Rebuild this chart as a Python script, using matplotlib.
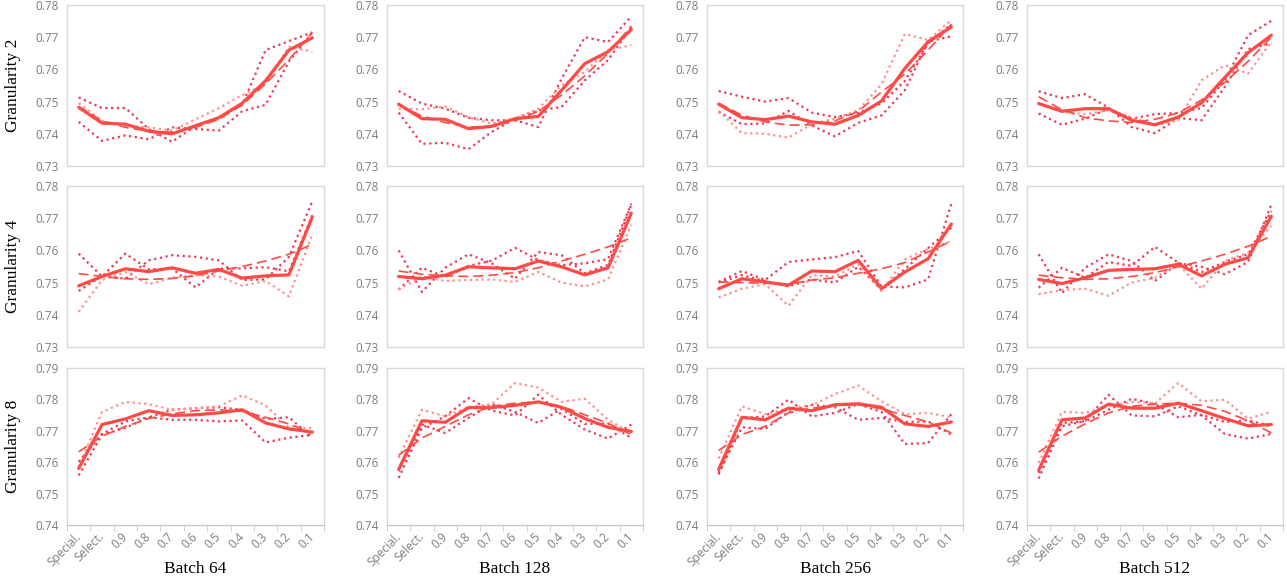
import matplotlib
matplotlib.use("Agg")
import matplotlib.pyplot as plt
from matplotlib.ticker import FormatStrFormatter

categories = ["Special.", "Select.", "0.9", "0.8", "0.7", "0.6", "0.5", "0.4", "0.3", "0.2", "0.1"]
granularities = ["Granularity 2", "Granularity 4", "Granularity 8"]
batches = ["Batch 64", "Batch 128", "Batch 256", "Batch 512"]

# Granularity 2
g2_b64_a = [0.7513, 0.7480, 0.7480, 0.7415, 0.7375, 0.7425, 0.7450, 0.7490, 0.7660, 0.7688, 0.7715]
g2_b64_b = [0.7437, 0.7378, 0.7395, 0.7383, 0.7420, 0.7415, 0.7410, 0.7470, 0.7490, 0.7625, 0.7715]
g2_b64_c = [0.7495, 0.7440, 0.7425, 0.7420, 0.7410, 0.7445, 0.7480, 0.7520, 0.7555, 0.7670, 0.7655]
g2_b64_avg = [0.7482, 0.7433, 0.7430, 0.7408, 0.7400, 0.7425, 0.7450, 0.7495, 0.7565, 0.7660, 0.7698]
g2_b64_fit = [0.7485, 0.7440, 0.7420, 0.7408, 0.7405, 0.7420, 0.7445, 0.7490, 0.7555, 0.7630, 0.7715]

g2_b128_a = [0.7533, 0.7494, 0.7478, 0.7450, 0.7442, 0.7442, 0.7421, 0.7571, 0.7700, 0.7685, 0.7765]
g2_b128_b = [0.7466, 0.7369, 0.7372, 0.7352, 0.7406, 0.7447, 0.7473, 0.7483, 0.7566, 0.7629, 0.7732]
g2_b128_c = [0.7478, 0.7476, 0.7485, 0.7452, 0.7432, 0.7447, 0.7478, 0.7551, 0.7592, 0.7660, 0.7675]
g2_b128_avg = [0.7492, 0.7447, 0.7445, 0.7416, 0.7423, 0.7447, 0.7454, 0.7535, 0.7618, 0.7655, 0.7724]
g2_b128_fit = [0.7490, 0.7455, 0.7435, 0.7420, 0.7425, 0.7440, 0.7470, 0.7520, 0.7580, 0.7650, 0.7735]

g2_b256_a = [0.7533, 0.7515, 0.7500, 0.7511, 0.7466, 0.7452, 0.7464, 0.7495, 0.7564, 0.7681, 0.7740]
g2_b256_b = [0.7468, 0.7430, 0.7432, 0.7471, 0.7426, 0.7392, 0.7434, 0.7457, 0.7535, 0.7686, 0.7703]
g2_b256_c = [0.7471, 0.7402, 0.7400, 0.7388, 0.7430, 0.7447, 0.7473, 0.7554, 0.7710, 0.7691, 0.7753]
g2_b256_avg = [0.7492, 0.7450, 0.7444, 0.7455, 0.7437, 0.7430, 0.7457, 0.7502, 0.7603, 0.7686, 0.7732]
g2_b256_fit = [0.7495, 0.7458, 0.7437, 0.7427, 0.7428, 0.7440, 0.7470, 0.7530, 0.7585, 0.7660, 0.7740]

g2_b512_a = [0.7532, 0.7511, 0.7523, 0.7481, 0.7421, 0.7402, 0.7449, 0.7442, 0.7546, 0.7663, 0.7681]
g2_b512_b = [0.7463, 0.7428, 0.7447, 0.7478, 0.7447, 0.7461, 0.7465, 0.7480, 0.7566, 0.7706, 0.7751]
g2_b512_c = [0.7494, 0.7468, 0.7461, 0.7473, 0.7452, 0.7426, 0.7442, 0.7566, 0.7613, 0.7587, 0.7686]
g2_b512_avg = [0.7494, 0.7470, 0.7478, 0.7478, 0.7442, 0.7428, 0.7452, 0.7496, 0.7575, 0.7652, 0.7706]
g2_b512_fit = [0.7515, 0.7475, 0.7450, 0.7440, 0.7435, 0.7445, 0.7465, 0.7505, 0.7560, 0.7625, 0.7700]

# Granularity 4
g4_b64_a = [0.7590, 0.7519, 0.7590, 0.7541, 0.7544, 0.7485, 0.7543, 0.7544, 0.7548, 0.7535, 0.7709]
g4_b64_b = [0.7474, 0.7521, 0.7512, 0.7569, 0.7585, 0.7580, 0.7569, 0.7508, 0.7510, 0.7580, 0.7753]
g4_b64_c = [0.7409, 0.7508, 0.7533, 0.7495, 0.7515, 0.7523, 0.7519, 0.7490, 0.7505, 0.7457, 0.7650]
g4_b64_avg = [0.7490, 0.7519, 0.7543, 0.7534, 0.7546, 0.7529, 0.7541, 0.7514, 0.7521, 0.7524, 0.7704]
g4_b64_fit = [0.7528, 0.7519, 0.7512, 0.7510, 0.7513, 0.7521, 0.7536, 0.7550, 0.7567, 0.7588, 0.7619]

g4_b128_a = [0.7600, 0.7471, 0.7546, 0.7588, 0.7560, 0.7512, 0.7595, 0.7585, 0.7529, 0.7555, 0.7742]
g4_b128_b = [0.7478, 0.7546, 0.7518, 0.7552, 0.7568, 0.7608, 0.7570, 0.7554, 0.7560, 0.7573, 0.7745]
g4_b128_c = [0.7479, 0.7519, 0.7505, 0.7508, 0.7510, 0.7502, 0.7533, 0.7500, 0.7488, 0.7510, 0.7680]
g4_b128_avg = [0.7519, 0.7512, 0.7523, 0.7549, 0.7546, 0.7543, 0.7567, 0.7549, 0.7524, 0.7546, 0.7716]
g4_b128_fit = [0.7536, 0.7526, 0.7521, 0.7519, 0.7523, 0.7531, 0.7546, 0.7567, 0.7588, 0.7611, 0.7639]

g4_b256_a = [0.7502, 0.7536, 0.7508, 0.7564, 0.7572, 0.7579, 0.7598, 0.7488, 0.7485, 0.7510, 0.7745]
g4_b256_b = [0.7500, 0.7523, 0.7505, 0.7488, 0.7510, 0.7500, 0.7549, 0.7479, 0.7542, 0.7607, 0.7670]
g4_b256_c = [0.7454, 0.7481, 0.7495, 0.7428, 0.7523, 0.7519, 0.7557, 0.7474, 0.7572, 0.7605, 0.7629]
g4_b256_avg = [0.7481, 0.7512, 0.7502, 0.7492, 0.7536, 0.7534, 0.7569, 0.7481, 0.7533, 0.7574, 0.7682]
g4_b256_fit = [0.7502, 0.7500, 0.7498, 0.7495, 0.7508, 0.7515, 0.7529, 0.7543, 0.7562, 0.7595, 0.7629]

g4_b512_a = [0.7588, 0.7467, 0.7546, 0.7588, 0.7567, 0.7505, 0.7560, 0.7549, 0.7526, 0.7564, 0.7742]
g4_b512_b = [0.7484, 0.7546, 0.7515, 0.7564, 0.7552, 0.7611, 0.7562, 0.7533, 0.7564, 0.7588, 0.7722]
g4_b512_c = [0.7464, 0.7477, 0.7481, 0.7459, 0.7500, 0.7515, 0.7557, 0.7481, 0.7567, 0.7593, 0.7677]
g4_b512_avg = [0.7510, 0.7497, 0.7515, 0.7538, 0.7541, 0.7543, 0.7557, 0.7521, 0.7557, 0.7577, 0.7706]
g4_b512_fit = [0.7523, 0.7515, 0.7510, 0.7512, 0.7519, 0.7531, 0.7549, 0.7567, 0.7588, 0.7613, 0.7644]

# Granularity 8
g8_b64_a = [0.7601, 0.7690, 0.7730, 0.7743, 0.7735, 0.7735, 0.7730, 0.7733, 0.7663, 0.7678, 0.7687]
g8_b64_b = [0.7558, 0.7688, 0.7709, 0.7743, 0.7767, 0.7772, 0.7775, 0.7767, 0.7738, 0.7743, 0.7679]
g8_b64_c = [0.7585, 0.7760, 0.7792, 0.7785, 0.7767, 0.7772, 0.7778, 0.7813, 0.7781, 0.7710, 0.7709]
g8_b64_avg = [0.7580, 0.7720, 0.7738, 0.7764, 0.7749, 0.7751, 0.7757, 0.7767, 0.7725, 0.7706, 0.7696]
g8_b64_fit = [0.7633, 0.7683, 0.7714, 0.7739, 0.7754, 0.7764, 0.7767, 0.7762, 0.7743, 0.7722, 0.7693]

g8_b128_a = [0.7550, 0.7709, 0.7746, 0.7804, 0.7764, 0.7749, 0.7815, 0.7751, 0.7704, 0.7675, 0.7720]
g8_b128_b = [0.7571, 0.7720, 0.7693, 0.7741, 0.7785, 0.7760, 0.7725, 0.7770, 0.7722, 0.7723, 0.7677]
g8_b128_c = [0.7614, 0.7767, 0.7746, 0.7775, 0.7785, 0.7852, 0.7838, 0.7792, 0.7802, 0.7735, 0.7693]
g8_b128_avg = [0.7577, 0.7732, 0.7727, 0.7774, 0.7774, 0.7781, 0.7792, 0.7775, 0.7739, 0.7711, 0.7698]
g8_b128_fit = [0.7622, 0.7677, 0.7714, 0.7751, 0.7778, 0.7788, 0.7792, 0.7778, 0.7751, 0.7724, 0.7688]

g8_b256_a = [0.7561, 0.7740, 0.7746, 0.7799, 0.7746, 0.7757, 0.7785, 0.7760, 0.7658, 0.7661, 0.7753]
g8_b256_b = [0.7566, 0.7711, 0.7706, 0.7760, 0.7783, 0.7775, 0.7735, 0.7741, 0.7728, 0.7730, 0.7688]
g8_b256_c = [0.7612, 0.7778, 0.7753, 0.7772, 0.7781, 0.7817, 0.7844, 0.7794, 0.7753, 0.7757, 0.7743]
g8_b256_avg = [0.7577, 0.7743, 0.7735, 0.7772, 0.7764, 0.7783, 0.7786, 0.7775, 0.7722, 0.7714, 0.7728]
g8_b256_fit = [0.7637, 0.7688, 0.7714, 0.7757, 0.7772, 0.7781, 0.7783, 0.7770, 0.7749, 0.7728, 0.7693]

g8_b512_a = [0.7548, 0.7714, 0.7732, 0.7815, 0.7749, 0.7746, 0.7778, 0.7749, 0.7690, 0.7675, 0.7690]
g8_b512_b = [0.7566, 0.7725, 0.7730, 0.7767, 0.7802, 0.7785, 0.7743, 0.7751, 0.7728, 0.7734, 0.7714]
g8_b512_c = [0.7598, 0.7760, 0.7757, 0.7778, 0.7792, 0.7788, 0.7852, 0.7794, 0.7799, 0.7739, 0.7760]
g8_b512_avg = [0.7574, 0.7735, 0.7741, 0.7785, 0.7772, 0.7772, 0.7788, 0.7764, 0.7739, 0.7716, 0.7720]
g8_b512_fit = [0.7632, 0.7683, 0.7722, 0.7757, 0.7778, 0.7785, 0.7788, 0.7781, 0.7762, 0.7732, 0.7693]

panels = [
    [(g2_b64_a, g2_b64_b, g2_b64_c, g2_b64_avg, g2_b64_fit),
     (g2_b128_a, g2_b128_b, g2_b128_c, g2_b128_avg, g2_b128_fit),
     (g2_b256_a, g2_b256_b, g2_b256_c, g2_b256_avg, g2_b256_fit),
     (g2_b512_a, g2_b512_b, g2_b512_c, g2_b512_avg, g2_b512_fit)],
    [(g4_b64_a, g4_b64_b, g4_b64_c, g4_b64_avg, g4_b64_fit),
     (g4_b128_a, g4_b128_b, g4_b128_c, g4_b128_avg, g4_b128_fit),
     (g4_b256_a, g4_b256_b, g4_b256_c, g4_b256_avg, g4_b256_fit),
     (g4_b512_a, g4_b512_b, g4_b512_c, g4_b512_avg, g4_b512_fit)],
    [(g8_b64_a, g8_b64_b, g8_b64_c, g8_b64_avg, g8_b64_fit),
     (g8_b128_a, g8_b128_b, g8_b128_c, g8_b128_avg, g8_b128_fit),
     (g8_b256_a, g8_b256_b, g8_b256_c, g8_b256_avg, g8_b256_fit),
     (g8_b512_a, g8_b512_b, g8_b512_c, g8_b512_avg, g8_b512_fit)],
]
y_ranges = [(0.73, 0.78), (0.73, 0.78), (0.74, 0.79)]

W, H = 1287, 582
col_px = [(67, 324), (387, 643), (707, 963), (1027, 1283)]
row_px = [(5, 166), (186, 347), (368, 525)]

dark_dot = "#ec3a55"
pink_dot = "#ff8f8f"
main_red = "#ff4a45"
frame = "#d9d9d9"
tick_grey = "#7f7f7f"

fig = plt.figure(figsize=(W / 100, H / 100), dpi=100)
x = list(range(len(categories)))

for r in range(3):
    for c in range(4):
        x0, x1 = col_px[c]
        y0, y1 = row_px[r]
        ax = fig.add_axes([x0 / W, 1 - y1 / H, (x1 - x0) / W, (y1 - y0) / H])
        a, b, p, avg, fit = panels[r][c]
        dots = (0, (1, 1.6))
        ax.plot(x, a, color=dark_dot, lw=1.6, ls=dots)
        ax.plot(x, b, color=dark_dot, lw=1.6, ls=dots)
        ax.plot(x, p, color=pink_dot, lw=1.6, ls=dots)
        ax.plot(x, fit, color=main_red, lw=1.2, ls=(0, (6, 3)))
        ax.plot(x, avg, color=main_red, lw=2.3, solid_capstyle="round")

        ax.set_xlim(-0.5, 10.5)
        ax.set_ylim(*y_ranges[r])
        lo, hi = y_ranges[r]
        ax.set_yticks([round(lo + 0.01 * k, 2) for k in range(6)])
        ax.yaxis.set_major_formatter(FormatStrFormatter("%.2f"))
        ax.tick_params(axis="y", length=0, pad=6, labelsize=8.5, labelcolor=tick_grey)
        for sp in ax.spines.values():
            sp.set_color(frame)
            sp.set_linewidth(1.0)
        for lab in ax.get_yticklabels():
            lab.set_fontfamily("Open Sans")

        if r == 2:
            ax.spines["bottom"].set_color("#c8c8c8")
            ax.set_xticks(x)
            ax.set_xticklabels(categories, rotation=45, ha="right", va="center",
                               rotation_mode="anchor", fontsize=8.5, color=tick_grey,
                               fontfamily="Open Sans")
            ax.set_xticks([k - 0.5 for k in range(12)], minor=True)
            ax.tick_params(axis="x", which="major", length=0, pad=7)
            ax.tick_params(axis="x", which="minor", length=4, color="#c8c8c8")
            fig.text((x0 + x1) / 2 / W, 1 - 569 / H, batches[c],
                     fontfamily="Liberation Serif", fontsize=12.5,
                     ha="center", va="center")
        else:
            ax.set_xticks([])

        if c == 0:
            fig.text(13 / W, 1 - (y0 + y1) / 2 / H, granularities[r],
                     fontfamily="Liberation Serif", fontsize=12.5, rotation=90,
                     ha="center", va="center")

fig.savefig("out.png", dpi=100)
